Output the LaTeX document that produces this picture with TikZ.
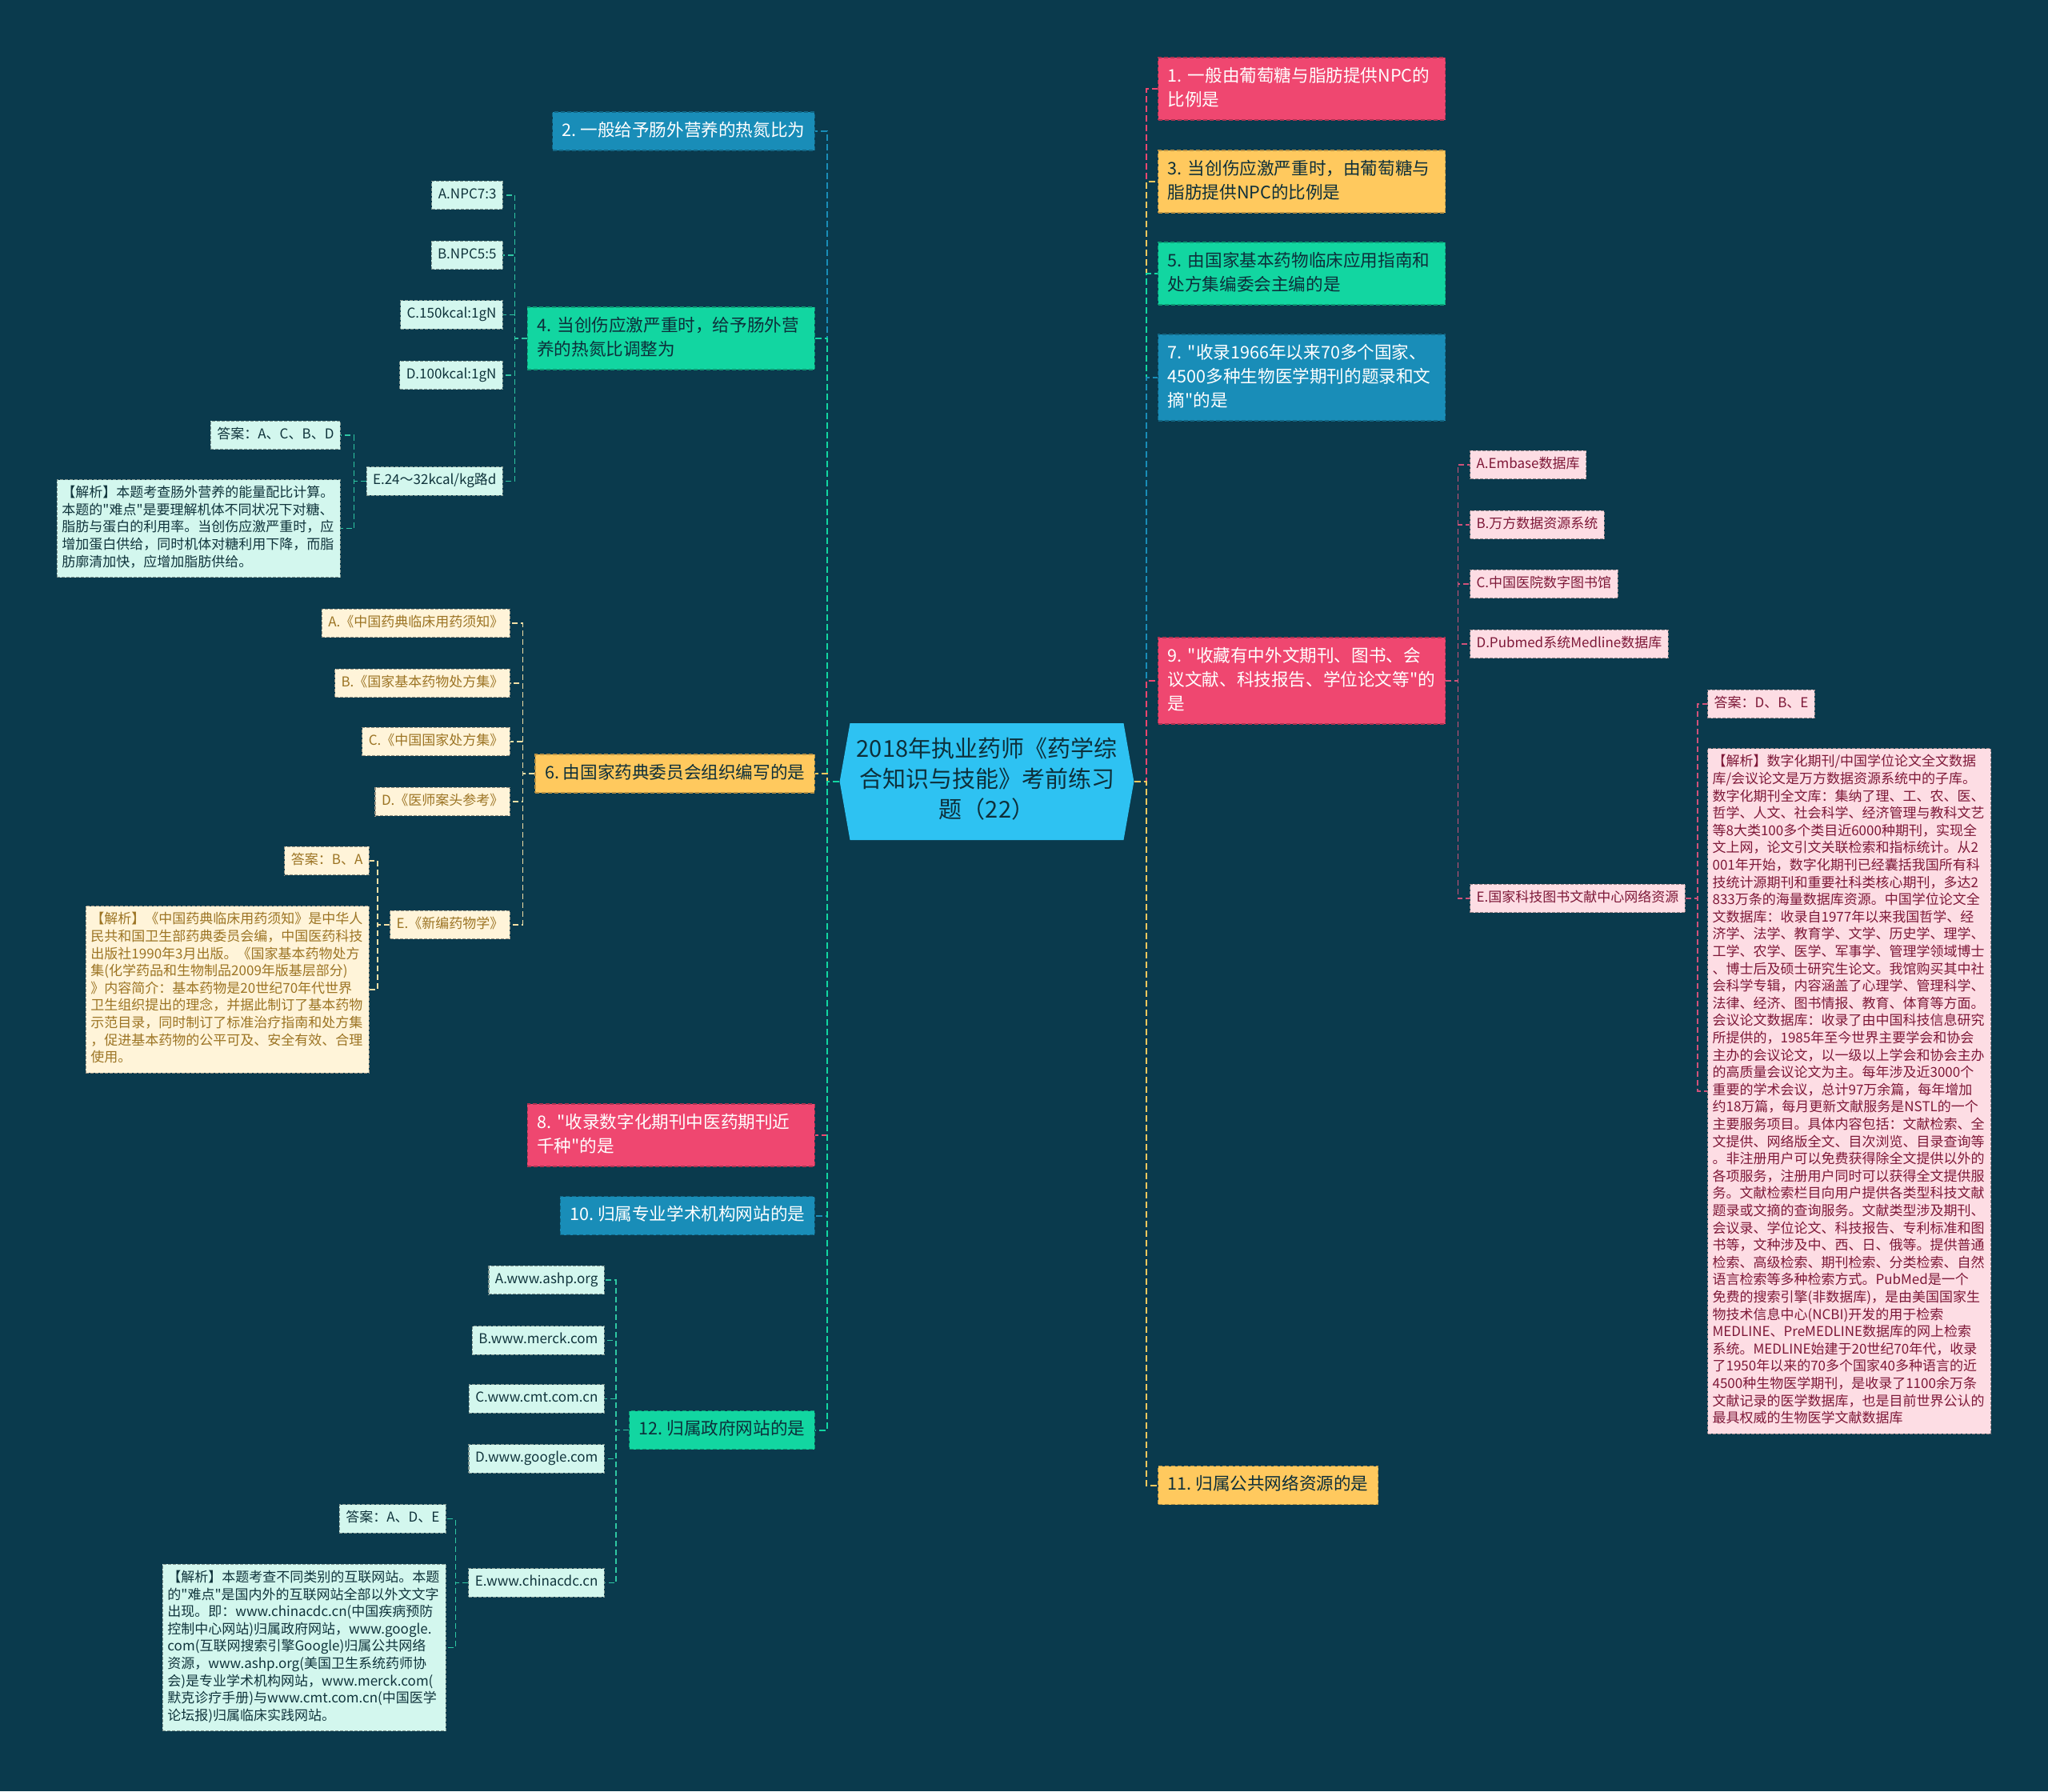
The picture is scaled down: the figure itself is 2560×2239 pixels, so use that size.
\documentclass[tikz,border=0pt]{standalone}
\usepackage{fontspec}
\setmainfont{Noto Sans CJK SC}[Ligatures=TeXOff]
\usetikzlibrary{shapes.symbols}
\setlength{\parindent}{0pt}
\hyphenpenalty=10000
\exhyphenpenalty=10000

\definecolor{bgc}{HTML}{0A3A4D}
\definecolor{rootc}{HTML}{2EC2F2}
\definecolor{pinkc}{HTML}{EF4770}
\definecolor{yellowc}{HTML}{FFC95E}
\definecolor{greenc}{HTML}{12D6A1}
\definecolor{bluec}{HTML}{198DB8}
\definecolor{inkc}{HTML}{0D2F3A}
\definecolor{mintc}{HTML}{D3F7EE}
\definecolor{creamc}{HTML}{FFF4D9}
\definecolor{blushc}{HTML}{FDDDE4}
\definecolor{mintink}{HTML}{10343C}
\definecolor{creamink}{HTML}{9C7424}
\definecolor{blushink}{HTML}{7E1838}
\definecolor{mintl}{HTML}{2FC7A3}
\definecolor{creaml}{HTML}{F2DFA6}
\definecolor{blushl}{HTML}{D0527A}

\begin{document}
\begin{tikzpicture}[
    x=1pt, y=-1pt,
    topic/.style={
      rectangle, fill=#1, draw=#1!72!black, line width=1.4pt,
      dash pattern=on 5pt off 3pt, align=left,
      inner xsep=12pt, inner ysep=9pt,
      font=\fontsize{21.6}{30}\selectfont,
      execute at begin node=\strut, execute at end node=\strut
    },
    opt/.style={
      rectangle, fill=#1, draw=#1!60!black, line width=1.1pt,
      dash pattern=on 4pt off 2pt, align=left,
      inner xsep=8pt, inner ysep=7pt,
      font=\fontsize{17}{21.6}\selectfont,
      execute at begin node=\strut, execute at end node=\strut
    },
    note/.style={opt=#1, text width=342pt, inner xsep=6pt},
    link/.style={draw=#1, line width=2pt, dash pattern=on 8pt off 4pt},
    sublink/.style={draw=#1, line width=1.6pt, dash pattern=on 7pt off 4pt}
  ]
  \useasboundingbox (0,0) rectangle (2560,2239);
  \fill[bgc] (0,0) rectangle (2560,2239);

  % centre
  \node[signal, signal to=west and east, signal pointer angle=160,
        fill=rootc, text=inkc, text width=330pt, align=center,
        inner xsep=6pt, inner ysep=16pt, font=\fontsize{29}{38}\selectfont,
        execute at begin node=\strut, execute at end node=\strut]
        (root) at (1233.5,977) {2018年执业药师《药学综\\合知识与技能》考前练习\\题（22）};

  % left questions
  \node[topic=bluec, text=white, anchor=east] (n2) at (1019,164) {2.~一般给予肠外营养的热氮比为};
  \node[topic=greenc, text=inkc, text width=335pt, anchor=east] (n4) at (1019,423) {4.~当创伤应激严重时，给予肠外营\\养的热氮比调整为};
  \node[topic=yellowc, text=inkc, anchor=east] (n6) at (1019,967) {6.~由国家药典委员会组织编写的是};
  \node[topic=pinkc, text=white, text width=335pt, anchor=east] (n8) at (1019,1419) {8.~"收录数字化期刊中医药期刊近\\千种"的是};
  \node[topic=bluec, text=white, anchor=east] (n10) at (1019,1519.5) {10.~归属专业学术机构网站的是};
  \node[topic=greenc, text=inkc, anchor=east] (n12) at (1019,1787.5) {12.~归属政府网站的是};

  % right questions
  \node[topic=pinkc, text=white, text width=335pt, anchor=west] (n1) at (1447,111) {1.~一般由葡萄糖与脂肪提供NPC的\\比例是};
  \node[topic=yellowc, text=inkc, text width=335pt, anchor=west] (n3) at (1447,227) {3.~当创伤应激严重时，由葡萄糖与\\脂肪提供NPC的比例是};
  \node[topic=greenc, text=inkc, text width=335pt, anchor=west] (n5) at (1447,342) {5.~由国家基本药物临床应用指南和\\处方集编委会主编的是};
  \node[topic=bluec, text=white, text width=335pt, anchor=west] (n7) at (1447,472) {7.~"收录1966年以来70多个国家、\\4500多种生物医学期刊的题录和文\\摘"的是};
  \node[topic=pinkc, text=white, text width=335pt, anchor=west] (n9) at (1447,851) {9.~"收藏有中外文期刊、图书、会\\议文献、科技报告、学位论文等"的\\是};
  \node[topic=yellowc, text=inkc, anchor=west] (n11) at (1447,1856.5) {11.~归属公共网络资源的是};

  % options of 4
  \node[opt=mintc, text=mintink, anchor=east] (n4a) at (629,244) {A.NPC7:3};
  \node[opt=mintc, text=mintink, anchor=east] (n4b) at (629,319) {B.NPC5:5};
  \node[opt=mintc, text=mintink, anchor=east] (n4c) at (629,393.5) {C.150kcal:1gN};
  \node[opt=mintc, text=mintink, anchor=east] (n4d) at (629,469) {D.100kcal:1gN};
  \node[opt=mintc, text=mintink, anchor=east] (n4e) at (629,601.5) {E.24～32kcal/kg路d};
  \node[opt=mintc, text=mintink, anchor=east] (n4ans) at (426,544) {答案：A、C、B、D};
  \node[note=mintc, text=mintink, anchor=east] (n4why) at (426,660.5) {【解析】本题考查肠外营养的能量配比计算。\\本题的"难点"是要理解机体不同状况下对糖、\\脂肪与蛋白的利用率。当创伤应激严重时，应\\增加蛋白供给，同时机体对糖利用下降，而脂\\肪廓清加快，应增加脂肪供给。};

  % options of 6
  \node[opt=creamc, text=creamink, anchor=east] (n6a) at (638,779) {A.《中国药典临床用药须知》};
  \node[opt=creamc, text=creamink, anchor=east] (n6b) at (638,854) {B.《国家基本药物处方集》};
  \node[opt=creamc, text=creamink, anchor=east] (n6c) at (638,927) {C.《中国国家处方集》};
  \node[opt=creamc, text=creamink, anchor=east] (n6d) at (638,1002) {D.《医师案头参考》};
  \node[opt=creamc, text=creamink, anchor=east] (n6e) at (638,1156) {E.《新编药物学》};
  \node[opt=creamc, text=creamink, anchor=east] (n6ans) at (462,1076) {答案：B、A};
  \node[note=creamc, text=creamink, anchor=east] (n6why) at (462,1237) {【解析】《中国药典临床用药须知》是中华人\\民共和国卫生部药典委员会编，中国医药科技\\出版社1990年3月出版。《国家基本药物处方\\集(化学药品和生物制品2009年版基层部分)\\》内容简介：基本药物是20世纪70年代世界\\卫生组织提出的理念，并据此制订了基本药物\\示范目录，同时制订了标准治疗指南和处方集\\，促进基本药物的公平可及、安全有效、合理\\使用。};

  % options of 12
  \node[opt=mintc, text=mintink, anchor=east] (n12a) at (756,1600) {A.www.ashp.org};
  \node[opt=mintc, text=mintink, anchor=east] (n12b) at (756,1675.5) {B.www.merck.com};
  \node[opt=mintc, text=mintink, anchor=east] (n12c) at (756,1748.5) {C.www.cmt.com.cn};
  \node[opt=mintc, text=mintink, anchor=east] (n12d) at (756,1823.5) {D.www.google.com};
  \node[opt=mintc, text=mintink, anchor=east] (n12e) at (756,1978.5) {E.www.chinacdc.cn};
  \node[opt=mintc, text=mintink, anchor=east] (n12ans) at (558,1898.5) {答案：A、D、E};
  \node[note=mintc, text=mintink, anchor=east] (n12why) at (558,2059.5) {【解析】本题考查不同类别的互联网站。本题\\的"难点"是国内外的互联网站全部以外文文字\\出现。即：www.chinacdc.cn(中国疾病预防\\控制中心网站)归属政府网站，www.google.\\com(互联网搜索引擎Google)归属公共网络\\资源，www.ashp.org(美国卫生系统药师协\\会)是专业学术机构网站，www.merck.com(\\默克诊疗手册)与www.cmt.com.cn(中国医学\\论坛报)归属临床实践网站。};

  % options of 9
  \node[opt=blushc, text=blushink, anchor=west] (n9a) at (1837,581) {A.Embase数据库};
  \node[opt=blushc, text=blushink, anchor=west] (n9b) at (1837,656) {B.万方数据资源系统};
  \node[opt=blushc, text=blushink, anchor=west] (n9c) at (1837,730) {C.中国医院数字图书馆};
  \node[opt=blushc, text=blushink, anchor=west] (n9d) at (1837,805) {D.Pubmed系统Medline数据库};
  \node[opt=blushc, text=blushink, anchor=west] (n9e) at (1837,1123) {E.国家科技图书文献中心网络资源};
  \node[opt=blushc, text=blushink, anchor=west] (n9ans) at (2134,880) {答案：D、B、E};
  \node[note=blushc, text=blushink, anchor=west] (n9why) at (2134,1364) {【解析】数字化期刊/中国学位论文全文数据\\库/会议论文是万方数据资源系统中的子库。\\数字化期刊全文库：集纳了理、工、农、医、\\哲学、人文、社会科学、经济管理与教科文艺\\等8大类100多个类目近6000种期刊，实现全\\文上网，论文引文关联检索和指标统计。从2\\001年开始，数字化期刊已经囊括我国所有科\\技统计源期刊和重要社科类核心期刊，多达2\\833万条的海量数据库资源。中国学位论文全\\文数据库：收录自1977年以来我国哲学、经\\济学、法学、教育学、文学、历史学、理学、\\工学、农学、医学、军事学、管理学领域博士\\、博士后及硕士研究生论文。我馆购买其中社\\会科学专辑，内容涵盖了心理学、管理科学、\\法律、经济、图书情报、教育、体育等方面。\\会议论文数据库：收录了由中国科技信息研究\\所提供的，1985年至今世界主要学会和协会\\主办的会议论文，以一级以上学会和协会主办\\的高质量会议论文为主。每年涉及近3000个\\重要的学术会议，总计97万余篇，每年增加\\约18万篇，每月更新文献服务是NSTL的一个\\主要服务项目。具体内容包括：文献检索、全\\文提供、网络版全文、目次浏览、目录查询等\\。非注册用户可以免费获得除全文提供以外的\\各项服务，注册用户同时可以获得全文提供服\\务。文献检索栏目向用户提供各类型科技文献\\题录或文摘的查询服务。文献类型涉及期刊、\\会议录、学位论文、科技报告、专利标准和图\\书等，文种涉及中、西、日、俄等。提供普通\\检索、高级检索、期刊检索、分类检索、自然\\语言检索等多种检索方式。PubMed是一个\\免费的搜索引擎(非数据库)，是由美国国家生\\物技术信息中心(NCBI)开发的用于检索\\MEDLINE、PreMEDLINE数据库的网上检索\\系统。MEDLINE始建于20世纪70年代，收录\\了1950年以来的70多个国家40多种语言的近\\4500种生物医学期刊，是收录了1100余万条\\文献记录的医学数据库，也是目前世界公认的\\最具权威的生物医学文献数据库};

  % connectors
  \foreach \b/\c in {n2/bluec, n4/greenc, n6/yellowc, n8/pinkc, n10/bluec, n12/greenc}
    \draw[link=\c] (root.west) -- ++(-15,0) |- (\b.east);
  \foreach \b/\c in {n1/pinkc, n3/yellowc, n5/greenc, n7/bluec, n9/pinkc, n11/yellowc}
    \draw[link=\c] (root.east) -- ++(15,0) |- (\b.west);

  \foreach \k in {a,b,c,d,e}
    \draw[sublink=mintl] (n4.west) -- ++(-15,0) |- (n4\k.east);
  \foreach \k in {ans,why}
    \draw[sublink=mintl] (n4e.west) -- ++(-15,0) |- (n4\k.east);
  \foreach \k in {a,b,c,d,e}
    \draw[sublink=creaml] (n6.west) -- ++(-15,0) |- (n6\k.east);
  \foreach \k in {ans,why}
    \draw[sublink=creaml] (n6e.west) -- ++(-15,0) |- (n6\k.east);
  \foreach \k in {a,b,c,d,e}
    \draw[sublink=mintl] (n12.west) -- ++(-16,0) |- (n12\k.east);
  \foreach \k in {ans,why}
    \draw[sublink=mintl] (n12e.west) -- ++(-16,0) |- (n12\k.east);
  \foreach \k in {a,b,c,d,e}
    \draw[sublink=blushl] (n9.east) -- ++(15,0) |- (n9\k.west);
  \foreach \k in {ans,why}
    \draw[sublink=blushl] (n9e.east) -- ++(15,0) |- (n9\k.west);
\end{tikzpicture}
\end{document}
